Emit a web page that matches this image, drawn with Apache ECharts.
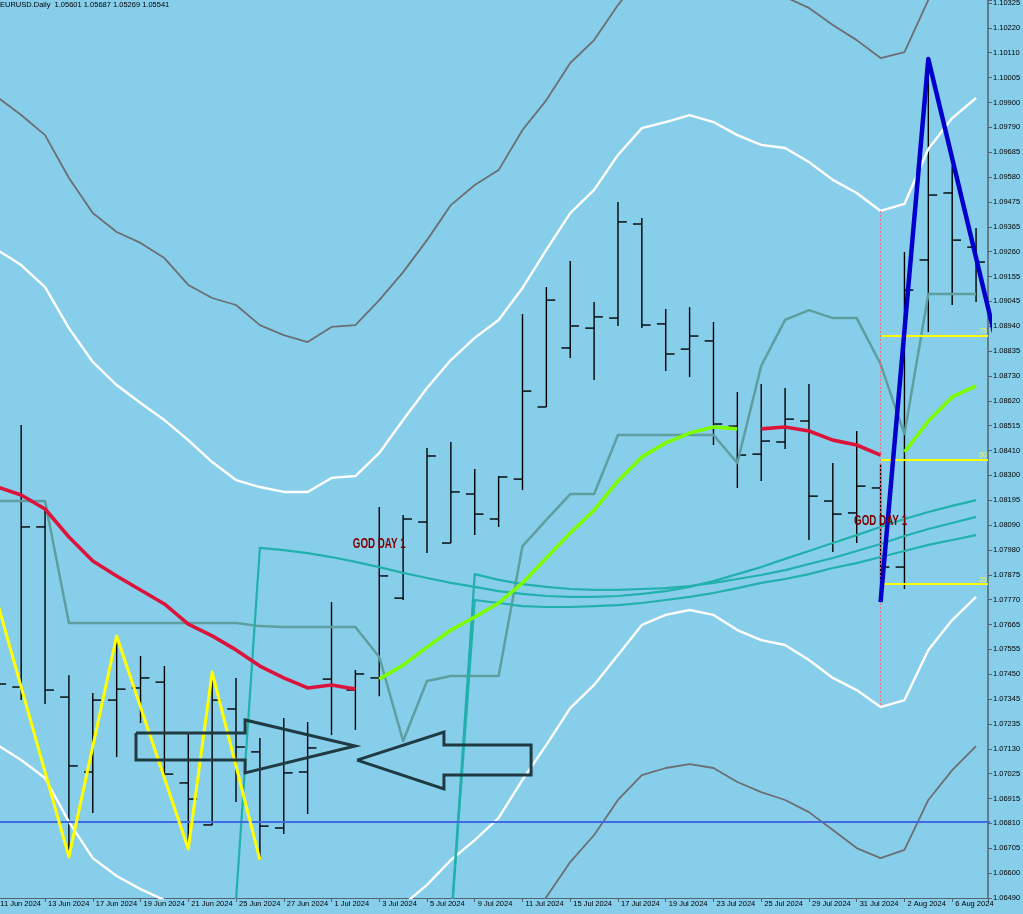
<!DOCTYPE html>
<html>
<head>
<meta charset="utf-8">
<script src="https://cdn.jsdelivr.net/npm/echarts@6/dist/echarts.min.js"></script>
<style>
html,body{margin:0;padding:0;background:#87ceeb;overflow:hidden;}
#chart{width:1023px;height:914px;}
</style>
</head>
<body>
<div id="chart"></div>
<script>
// ---------- DATA ----------
const dates = ['11 Jun 2024','12 Jun 2024','13 Jun 2024','14 Jun 2024','17 Jun 2024','18 Jun 2024','19 Jun 2024','20 Jun 2024','21 Jun 2024','24 Jun 2024','25 Jun 2024','26 Jun 2024','27 Jun 2024','28 Jun 2024','1 Jul 2024','2 Jul 2024','3 Jul 2024','4 Jul 2024','5 Jul 2024','8 Jul 2024','9 Jul 2024','10 Jul 2024','11 Jul 2024','12 Jul 2024','15 Jul 2024','16 Jul 2024','17 Jul 2024','18 Jul 2024','19 Jul 2024','22 Jul 2024','23 Jul 2024','24 Jul 2024','25 Jul 2024','26 Jul 2024','29 Jul 2024','30 Jul 2024','31 Jul 2024','1 Aug 2024','2 Aug 2024','5 Aug 2024','6 Aug 2024','7 Aug 2024'];

const open  = [1.07553,1.07394,1.08080,1.07351,1.07030,1.07338,1.07390,1.07415,1.06983,1.06803,1.07300,1.07116,1.06790,1.07030,1.07428,1.07381,1.07433,1.07775,1.08101,1.08011,1.08221,1.08114,1.08285,1.08594,1.08847,1.08932,1.08975,1.09378,1.08950,1.08842,1.08877,1.08512,1.08392,1.08444,1.08534,1.08191,1.08140,1.08247,1.07908,1.09224,1.09511,1.09279];
const high  = [1.07758,1.08517,1.08161,1.07445,1.07368,1.07613,1.07527,1.07484,1.07201,1.07458,1.07433,1.07176,1.07261,1.07244,1.07758,1.07467,1.08165,1.08131,1.08418,1.08444,1.08328,1.08298,1.08992,1.09108,1.09219,1.09044,1.09472,1.09404,1.09014,1.09022,1.08958,1.08658,1.08692,1.08675,1.08692,1.08354,1.08491,1.08350,1.09258,1.10085,1.09627,1.09361];
const low   = [1.07253,1.07338,1.07321,1.06666,1.06854,1.07094,1.07240,1.07013,1.06700,1.06803,1.06901,1.06653,1.06764,1.06850,1.07188,1.07210,1.07355,1.07767,1.07968,1.08011,1.08045,1.08080,1.08238,1.08594,1.08804,1.08710,1.08941,1.08932,1.08748,1.08722,1.08431,1.08247,1.08277,1.08414,1.08024,1.07973,1.08011,1.07758,1.07814,1.08915,1.09031,1.09044];
const close = [1.07407,1.08080,1.07381,1.07056,1.07338,1.07385,1.07433,1.07021,1.06914,1.07338,1.07137,1.06798,1.07026,1.07133,1.07398,1.07450,1.07870,1.08114,1.08384,1.08230,1.08135,1.08294,1.08662,1.09052,1.08941,1.08980,1.09387,1.08945,1.08821,1.08898,1.08521,1.08388,1.08448,1.08542,1.08212,1.08135,1.08255,1.07908,1.09095,1.09502,1.09309,1.09215];

const grayUpper = [1.09922,1.09845,1.09759,1.09575,1.09425,1.09344,1.09297,1.09232,1.09117,1.09061,1.09031,1.08945,1.08902,1.08872,1.08937,1.08945,1.09052,1.09172,1.09309,1.09459,1.09545,1.09609,1.09781,1.09909,1.10068,1.10166,1.10316,1.10445,1.10509,1.10544,1.10531,1.10466,1.10402,1.10351,1.10304,1.10231,1.10166,1.10089,1.10115,1.10338,1.10509,1.10616];
const grayLower = [1.06460,1.06374,1.06267,1.06096,1.05924,1.05839,1.05774,1.05710,1.05624,1.05539,1.05474,1.05453,1.05431,1.05431,1.05496,1.05517,1.05624,1.05753,1.05881,1.06010,1.06117,1.06203,1.06331,1.06494,1.06644,1.06760,1.06910,1.07017,1.07047,1.07064,1.07047,1.06987,1.06944,1.06910,1.06858,1.06781,1.06704,1.06661,1.06696,1.06910,1.07038,1.07141];
const whiteUpper = [1.09267,1.09202,1.09108,1.08932,1.08787,1.08688,1.08611,1.08538,1.08452,1.08358,1.08281,1.08251,1.08230,1.08230,1.08290,1.08298,1.08397,1.08538,1.08675,1.08795,1.08890,1.08967,1.09104,1.09267,1.09425,1.09524,1.09674,1.09789,1.09815,1.09845,1.09815,1.09759,1.09717,1.09704,1.09644,1.09567,1.09511,1.09434,1.09464,1.09699,1.09832,1.09918];
const whiteLower = [1.07146,1.07081,1.07004,1.06816,1.06661,1.06584,1.06528,1.06481,1.06417,1.06353,1.06289,1.06246,1.06224,1.06224,1.06246,1.06289,1.06374,1.06460,1.06546,1.06653,1.06738,1.06833,1.06996,1.07146,1.07304,1.07403,1.07531,1.07660,1.07703,1.07724,1.07703,1.07638,1.07595,1.07574,1.07510,1.07433,1.07381,1.07308,1.07338,1.07553,1.07681,1.07780];

const stepLine = [1.08191,1.08191,1.08191,1.07668,1.07668,1.07668,1.07668,1.07668,1.07668,1.07668,1.07668,1.07655,1.07651,1.07651,1.07651,1.07651,1.07523,1.07163,1.07420,1.07441,1.07441,1.07441,1.07998,1.08110,1.08221,1.08221,1.08474,1.08474,1.08474,1.08474,1.08474,1.08354,1.08770,1.08967,1.09009,1.08975,1.08975,1.08778,1.08478,1.09078,1.09078,1.09078];

const tealA = [null,null,null,null,null,null,null,null,null,null,1.06481,1.07990,1.07981,1.07968,1.07951,1.07930,1.07908,1.07883,1.07861,1.07840,1.07823,1.07805,1.07793,1.07784,1.07780,1.07780,1.07784,1.07793,1.07805,1.07823,1.07848,1.07878,1.07908,1.07943,1.07977,1.08011,1.08045,1.08080,1.08114,1.08144,1.08170,1.08195];
const tealB = [null,null,null,null,null,null,null,null,null,null,null,null,null,null,null,null,null,null,null,1.06374,1.07878,1.07853,1.07835,1.07823,1.07814,1.07810,1.07810,1.07814,1.07818,1.07827,1.07840,1.07857,1.07874,1.07895,1.07921,1.07947,1.07977,1.08007,1.08041,1.08071,1.08097,1.08123];
const tealC = [null,null,null,null,null,null,null,null,null,null,null,null,null,null,null,null,null,null,null,1.06374,1.07767,1.07754,1.07741,1.07737,1.07737,1.07741,1.07745,1.07754,1.07767,1.07780,1.07797,1.07818,1.07840,1.07857,1.07878,1.07904,1.07925,1.07951,1.07977,1.08003,1.08024,1.08045];

const maRed = [1.08251,1.08217,1.08157,1.08037,1.07934,1.07870,1.07810,1.07750,1.07664,1.07613,1.07553,1.07484,1.07433,1.07390,1.07403,1.07385,null,null,null,null,null,null,null,null,null,null,null,null,null,null,null,null,1.08500,1.08508,1.08491,1.08452,1.08431,1.08388,null,null,null,null];
const maGreen = [null,null,null,null,null,null,null,null,null,null,null,null,null,null,null,null,1.07428,1.07488,1.07565,1.07638,1.07694,1.07754,1.07840,1.07947,1.08054,1.08152,1.08277,1.08380,1.08440,1.08482,1.08508,1.08500,null,null,null,null,null,null,1.08401,1.08534,1.08637,1.08684];

const yellowZigIdx = [0,3,5,8,9,11];
const yellowZigPrice = [1.07758,1.06666,1.07613,1.06700,1.07458,1.06653];
const blueZigIdx = [37,39,42];
const blueZigPrice = [1.07758,1.10085,1.08808];

const supportLevel = 1.06816;
const fibStartIdx = 37;
const fibPrices = [1.07835,1.08367,1.08898];
const fibLabels = ['25','50','75'];
const markerIdx = 37;

const arrow1X = [5.81,10.38,10.38,14.99,10.38,10.38,5.81,5.81];
const arrow1Y = [1.07197,1.07197,1.07253,1.07141,1.07026,1.07081,1.07081,1.07197];
const arrow2X = [15.07,18.71,18.71,22.36,22.36,18.71,18.71,15.07];
const arrow2Y = [1.07081,1.07201,1.07146,1.07146,1.07017,1.07017,1.06957,1.07081];

const godIdx = [16,37];
const godPrice = [1.08007,1.08105];
const godText = ['GOD DAY 1','GOD DAY 1'];

const yLabels = ['1.06490','1.06600','1.06705','1.06810','1.06915','1.07025','1.07130','1.07235','1.07345','1.07450','1.07555','1.07665','1.07770','1.07875','1.07980','1.08090','1.08195','1.08300','1.08410','1.08515','1.08620','1.08730','1.08835','1.08940','1.09045','1.09155','1.09260','1.09365','1.09475','1.09580','1.09685','1.09790','1.09900','1.10005','1.10110','1.10220','1.10325'];
const titleText = 'EURUSD.Daily  1.05601 1.05687 1.05269 1.05541';

// ---------- AXIS RANGE ----------
const yMin = 1.06490;
const yStep = (1.10325 - 1.06490) / (yLabels.length - 1);
const yTop = 1.103379;
const xMax = 41.5;

const FONT = "'Liberation Sans Narrow','Liberation Sans',Arial,sans-serif";
const AXIS_FONT_SIZE = 7.5;
const AXIS_COLOR = '#56626c';

function seriesData(arr) { return arr.map((v, i) => [i, v == null ? '-' : v]); }
function pairs(xs, ys) { return xs.map((x, k) => [x, ys[k]]); }
function line(name, data, color, width, extra) {
  return Object.assign({
    type: 'line', name: name, data: data, symbol: 'none', showSymbol: false,
    silent: true, animation: false, connectNulls: false, clip: true,
    lineStyle: { color: color, width: width, join: 'round' },
    emphasis: { disabled: true }
  }, extra || {});
}

const series = [
  line('grayUpper', seriesData(grayUpper), '#6b6f72', 1.8),
  line('grayLower', seriesData(grayLower), '#6b6f72', 1.8),
  line('whiteUpper', seriesData(whiteUpper), '#ffffff', 2.4),
  line('whiteLower', seriesData(whiteLower), '#ffffff', 2.4),
  line('step', seriesData(stepLine), '#5f9e9e', 2.5),
  line('tealA', seriesData(tealA), '#22b0ac', 2.2),
  line('tealB', seriesData(tealB), '#22b0ac', 2.2),
  line('tealC', seriesData(tealC), '#22b0ac', 2.2),
  line('maRed', seriesData(maRed), '#dc143c', 3.6),
  line('maGreen', seriesData(maGreen), '#7cfc00', 3.6),
  line('support', [[-1, supportLevel], [xMax + 1, supportLevel]], '#4169e1', 2),
  ...fibPrices.map((p, k) => line('fib' + k, [[fibStartIdx, p], [xMax, p]], '#ffff00', 2)),
  line('marker', [[markerIdx, whiteUpper[markerIdx]], [markerIdx, whiteLower[markerIdx]]], '#f06a78', 1,
       { lineStyle: { color: '#f06a78', width: 1, type: [2, 2] } }),
  line('yellowZig', pairs(yellowZigIdx, yellowZigPrice), '#ffff00', 3),
  line('blueZig', pairs(blueZigIdx, blueZigPrice), '#0000cd', 4.5),
  {
    type: 'custom', name: 'bars', silent: true, animation: false, clip: true,
    data: dates.map((d, i) => [i, open[i], high[i], low[i], close[i]]),
    encode: { x: 0, y: [1, 2, 3, 4] },
    renderItem: function (params, api) {
      const x = api.value(0);
      const o = api.coord([x, api.value(1)]);
      const h = api.coord([x, api.value(2)]);
      const l = api.coord([x, api.value(3)]);
      const c = api.coord([x, api.value(4)]);
      const w = api.size([1, 0])[0] * 0.37;
      const st = { stroke: '#000000', lineWidth: 1.4 };
      return {
        type: 'group',
        children: [
          { type: 'line', shape: { x1: h[0], y1: h[1], x2: l[0], y2: l[1] }, style: st },
          { type: 'line', shape: { x1: o[0] - w, y1: o[1], x2: o[0], y2: o[1] }, style: st },
          { type: 'line', shape: { x1: c[0], y1: c[1], x2: c[0] + w, y2: c[1] }, style: st }
        ]
      };
    }
  },
  line('arrow1', pairs(arrow1X, arrow1Y), '#203a42', 3, { lineStyle: { color: '#203a42', width: 3, join: 'miter' } }),
  line('arrow2', pairs(arrow2X, arrow2Y), '#203a42', 3, { lineStyle: { color: '#203a42', width: 3, join: 'miter' } })
];

const chart = echarts.init(document.getElementById('chart'), null, { renderer: 'canvas' });
chart.setOption({
  backgroundColor: '#87ceeb',
  animation: false,
  title: {
    text: titleText, left: 0, top: 1, padding: 0,
    textStyle: { fontFamily: FONT, fontSize: AXIS_FONT_SIZE, fontWeight: 'normal', color: '#000000' }
  },
  grid: { left: -2.7, right: 35, top: 0, bottom: 16, containLabel: false, outerBoundsMode: 'none' },
  xAxis: {
    type: 'value', min: 0, max: xMax, interval: 2,
    axisLine: { show: true, onZero: false, lineStyle: { color: AXIS_COLOR, width: 1.2 } },
    axisTick: { show: true, length: 4, lineStyle: { color: AXIS_COLOR, width: 1 } },
    splitLine: { show: false },
    axisLabel: {
      show: true, align: 'left', padding: [0, 0, 0, 3], margin: 2,
      fontFamily: FONT, fontSize: AXIS_FONT_SIZE, color: '#000000',
      formatter: function (v) { return (Number.isInteger(v) && dates[v]) ? dates[v] : ''; }
    }
  },
  yAxis: {
    type: 'value', position: 'right', min: yMin, max: yTop, interval: yStep, scale: true,
    axisLine: { show: true, onZero: false, lineStyle: { color: AXIS_COLOR, width: 1.5 } },
    axisTick: { show: true, length: 4, lineStyle: { color: AXIS_COLOR, width: 1 } },
    splitLine: { show: false },
    axisLabel: {
      show: true, margin: 5, fontFamily: FONT, fontSize: AXIS_FONT_SIZE, color: '#000000',
      formatter: function (v) {
        const k = Math.round((v - yMin) / yStep);
        if (k >= 0 && k < yLabels.length && Math.abs(v - (yMin + k * yStep)) < yStep * 0.02) return yLabels[k];
        return '';
      }
    }
  },
  series: series
});

// text annotations placed through the chart's own coordinate conversion
const GOD_FONT = "bold 14px 'Liberation Sans', Arial, sans-serif";
const measure = document.createElement('canvas').getContext('2d');
measure.font = GOD_FONT;
const godScale = 53 / measure.measureText('GOD DAY 1').width;

const graphics = [];
godIdx.forEach((x, k) => {
  const pt = chart.convertToPixel({ gridIndex: 0 }, [x, godPrice[k]]);
  graphics.push({
    type: 'text', x: pt[0], y: pt[1], scaleX: godScale, silent: true, z: 100,
    style: { text: godText[k], font: GOD_FONT, fill: '#7d0000', align: 'center', verticalAlign: 'middle' }
  });
});
fibPrices.forEach((p, k) => {
  const pt = chart.convertToPixel({ gridIndex: 0 }, [xMax, p]);
  graphics.push({
    type: 'text', x: pt[0] - 1, y: pt[1] - 1, silent: true, z: 100,
    style: { text: fibLabels[k], font: "7px 'Liberation Sans', Arial, sans-serif", fill: '#f2f25a', align: 'right', verticalAlign: 'bottom' }
  });
});
chart.setOption({ graphic: graphics });
</script>
</body>
</html>
